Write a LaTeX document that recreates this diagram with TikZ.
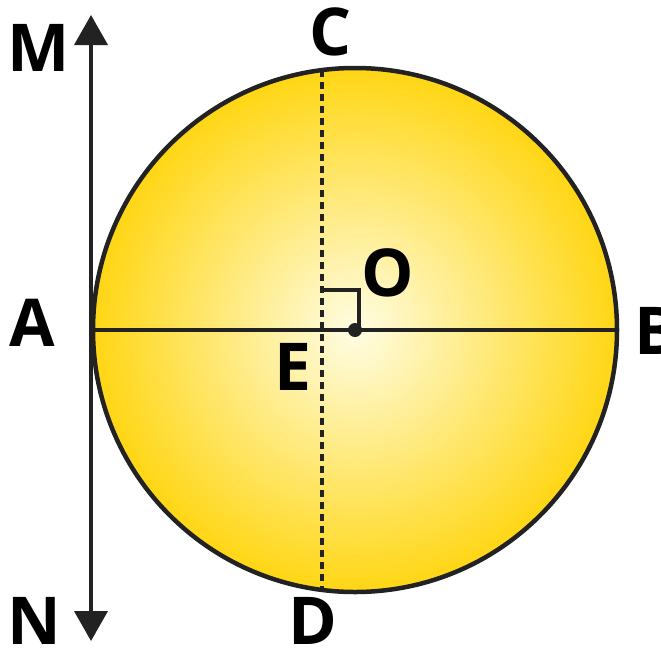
\documentclass[tikz,border=0pt]{standalone}
\usepackage{fontspec}
\setmainfont{Open Sans}
\usetikzlibrary{arrows.meta, positioning}
\definecolor{discgold}{RGB}{255,214,20}
\definecolor{discpale}{RGB}{255,253,228}
\definecolor{inkgray}{RGB}{34,34,34}

\begin{document}
\begin{tikzpicture}[
    x=1pt,y=-1pt,
    lbl/.style={font=\fontsize{66}{66}\selectfont\bfseries,inner sep=0pt},
    rim/.style={draw=inkgray,line width=4.5pt},
    chord/.style={inkgray,line width=3.5pt},
    dotline/.style={inkgray,line width=3.5pt,dash pattern=on 7pt off 5pt},
    tangent/.style={{Triangle[width=33pt,length=30pt]}-{Triangle[width=33pt,length=30pt]},
                    inkgray,line width=4pt}
]
  \useasboundingbox (0,0) rectangle (661,651);

  % Disc with centre O
  \coordinate (O) at (355,330);
  \shade[inner color=discpale,outer color=discgold] (O) circle[radius=262];

  % Diameter AB
  \coordinate (A) at (93,330);
  \coordinate (B) at (617,330);
  \draw[chord] (A) -- (B);

  % Chord CD through E
  \coordinate (C) at (322,70);
  \coordinate (E) at (322,330);
  \coordinate (D) at (322,590);
  \draw[dotline] (C) -- (D);

  % Right angle at E
  \coordinate (sqa) at (322,290);
  \coordinate (sqb) at (359,290);
  \coordinate (sqc) at (359,330);
  \draw[inkgray,line width=3.5pt] (sqa) -- (sqb) -- (sqc);

  % Circle outline
  \draw[rim] (O) circle[radius=262];

  % Tangent MN at A
  \coordinate (M) at (91,15);
  \coordinate (N) at (91,641);
  \draw[tangent] (M) -- (N);

  \fill[inkgray] (O) circle[radius=7];

  % Labels
  \node[lbl] (lM) at (39,48) {M};
  \node[lbl] (lN) at (34,621) {N};
  \node[lbl] (lA) at (32,323) {A};
  \node[lbl,anchor=west] (lB) at (634,331) {B};
  \node[lbl] (lC) at (331,32) {C};
  \node[lbl] (lD) at (313,621) {D};
  \node[lbl] (lO) at (388,273) {O};
  \node[lbl] (lE) at (293,367) {E};
\end{tikzpicture}
\end{document}
